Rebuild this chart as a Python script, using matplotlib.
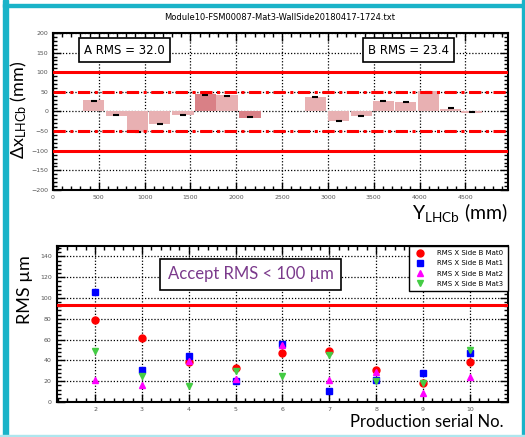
import matplotlib.pyplot as plt
from matplotlib.patches import Rectangle
from matplotlib.ticker import MultipleLocator

plt.rcParams['mathtext.fontset'] = 'custom'
plt.rcParams['mathtext.rm'] = 'Lato'
plt.rcParams['mathtext.it'] = 'Lato:italic'

# 上图: 每个模块的 Δx
bar_pos = [442, 692, 926, 1165, 1418, 1664, 1898, 2151,
           2861, 3116, 3365, 3606, 3850, 4095, 4340, 4567]
bar_val = [29, -11, -52, -31, -9.5, 44, 42, -17,
           38, -25, -12, 26, 24, 51, 7, -3.5]
mark_val = [27, -10, -51, -31, -9, 42, 40, -14,
            36.5, -23, -11, 27, 23, 50, 8, -1]
dark_bars = [5, 7]

# 下图: RMS
serial = [2, 3, 4, 5, 6, 7, 8, 9, 10]
mat0 = [79.3, 61.6, 38.9, 33.1, 46.9, 48.8, 31.2, 18.0, 38.2]
mat1 = [105.6, 31.2, 44.6, 19.9, 55.5, 10.3, 20.9, 27.9, 47.5]
mat2 = [21.2, 16.0, 39.0, 21.8, 54.6, 21.5, 29.2, 8.4, 24.0]
mat3 = [49.1, 24.7, 15.4, 30.0, 25.0, 45.6, 20.6, 18.3, 49.8]

W, H = 525, 437
fig = plt.figure(figsize=(W / 100, H / 100), dpi=100)

# 青色边框
cyan = '#1ab3c8'
fig.patches.append(Rectangle((3 / W, 0), 5 / W, 1, color=cyan, transform=fig.transFigure))
fig.patches.append(Rectangle((3 / W, 1 - 7 / H), 1, 3 / H, color=cyan, transform=fig.transFigure))
fig.patches.append(Rectangle((522 / W, 0), 3 / W, 1, color=cyan, transform=fig.transFigure))
fig.patches.append(Rectangle((0, 0), 1, 2 / H, color='#aee6ee', transform=fig.transFigure))


def root_style(ax):
    ax.tick_params(which='both', direction='in', top=True, right=True,
                   labelsize=4.5, labelcolor='#555555', width=1)
    ax.tick_params(which='major', length=6)
    ax.tick_params(which='minor', length=3)
    ax.grid(True, which='major', ls=(0, (1, 1.5)), color='black', lw=0.9)
    for s in ax.spines.values():
        s.set_linewidth(1.5)


ax1 = fig.add_axes([53 / W, 1 - 190 / H, 455 / W, 157 / H])
colors = ['#d98086' if i in dark_bars else '#e8b0b2' for i in range(len(bar_pos))]
ax1.bar(bar_pos, bar_val, width=232, color=colors, zorder=2)
ax1.plot(bar_pos, mark_val, ls='none', marker='_', color='black', ms=4, mew=1.5, zorder=3)
ax1.axhline(100, color='red', lw=2.2, zorder=4)
ax1.axhline(-100, color='red', lw=2.2, zorder=4)
ax1.axhline(50, color='red', lw=2.2, ls=(0, (4, 1.5, 1, 1.5)), zorder=4)
ax1.axhline(-50, color='red', lw=2.2, ls=(0, (4, 1.5, 1, 1.5)), zorder=4)
ax1.set_xlim(0, 4965)
ax1.set_ylim(-200, 200)
ax1.xaxis.set_major_locator(MultipleLocator(500))
ax1.xaxis.set_minor_locator(MultipleLocator(100))
ax1.yaxis.set_major_locator(MultipleLocator(50))
ax1.yaxis.set_minor_locator(MultipleLocator(10))
root_style(ax1)
ax1.set_xticks(range(0, 5000, 500))
ax1.set_xticklabels(['0'] + [str(v) for v in range(500, 5000, 500)])
for x0, txt in [(320, 'A RMS = 32.0'), (3420, 'B RMS = 23.4')]:
    ax1.text(x0 + 460, 156, txt, ha='center', va='center', fontsize=8.5,
             bbox=dict(boxstyle='square,pad=0.45', fc='white', ec='black', lw=1.2), zorder=5)
fig.text(280 / W, 1 - 18 / H, 'Module10-FSM00087-Mat3-WallSide20180417-1724.txt',
         ha='center', va='center', fontsize=6)
fig.text(19 / W, 1 - 110 / H, r'$\Delta$x$_{\mathrm{LHCb}}$ (mm)', rotation=90,
         ha='center', va='center', fontsize=13, family='Lato')
fig.text(508 / W, 1 - 213 / H, r'Y$_{\mathrm{LHCb}}$ (mm)', ha='right', va='center',
         fontsize=14, family='Lato')

ax2 = fig.add_axes([56.7 / W, 1 - 402 / H, 451 / W, 156 / H])
ax2.plot(serial, mat0, ls='none', marker='o', color='red', ms=5, label='RMS X Side B Mat0', zorder=3)
ax2.plot(serial, mat1, ls='none', marker='s', color='blue', ms=5, label='RMS X Side B Mat1', zorder=3)
ax2.plot(serial, mat2, ls='none', marker='^', color='magenta', ms=5, label='RMS X Side B Mat2', zorder=3)
ax2.plot(serial, mat3, ls='none', marker='v', color='#44cc44', ms=5, label='RMS X Side B Mat3', zorder=3)
ax2.axhline(93.4, color='red', lw=2.2, zorder=4)
ax2.set_xlim(1.18, 10.81)
ax2.set_ylim(0, 150)
ax2.xaxis.set_major_locator(MultipleLocator(1))
ax2.xaxis.set_minor_locator(MultipleLocator(0.2))
ax2.yaxis.set_major_locator(MultipleLocator(20))
ax2.yaxis.set_minor_locator(MultipleLocator(4))
root_style(ax2)
ax2.set_xticks(serial)
leg = ax2.legend(loc='upper right', fontsize=5, fancybox=False, borderaxespad=0,
                 edgecolor='black', framealpha=1, handletextpad=1.5, labelspacing=0.6,
                 borderpad=0.6)
leg.get_frame().set_linewidth(1)
ax2.text(5.32, 123, 'Accept RMS < 100 µm', ha='center', va='center', fontsize=12,
         color='#7b3a8c', family='Lato',
         bbox=dict(boxstyle='square,pad=0.45', fc='white', ec='black', lw=1.2), zorder=5)
fig.text(25 / W, 1 - 290 / H, 'RMS µm', rotation=90, ha='center', va='center',
         fontsize=13, family='Lato')
fig.text(504 / W, 1 - 422 / H, 'Production serial No.', ha='right', va='center',
         fontsize=12, family='Lato')

fig.savefig('out.png', dpi=100)
